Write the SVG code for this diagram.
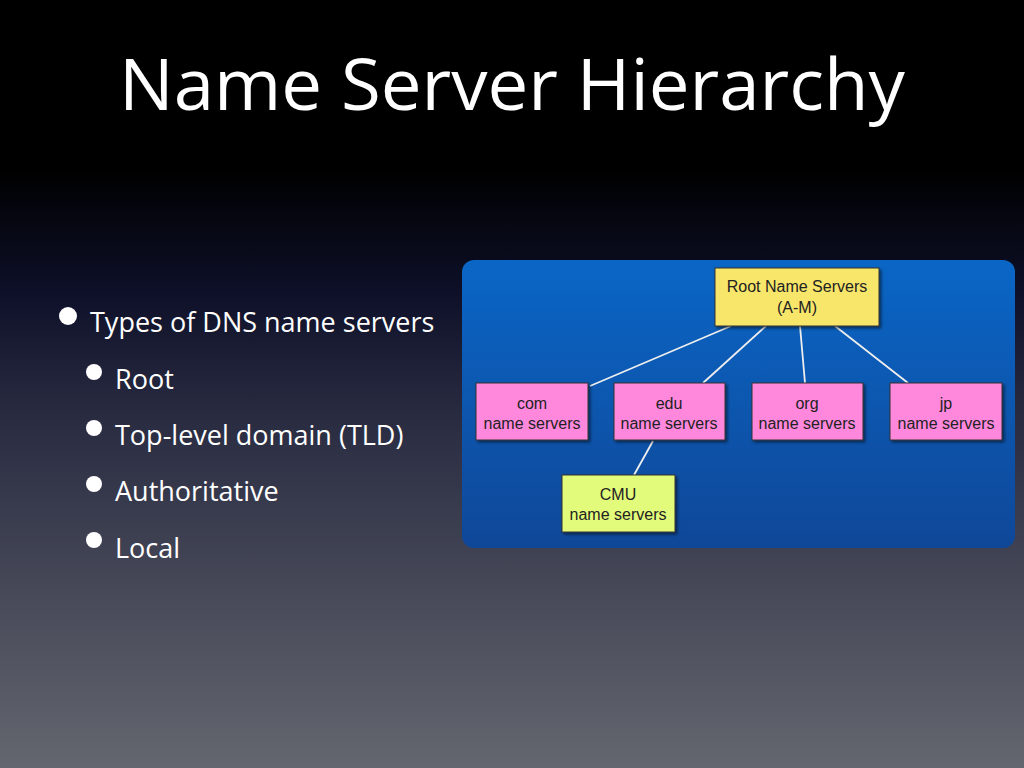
<svg xmlns="http://www.w3.org/2000/svg" width="1024" height="768" viewBox="0 0 1024 768">
<defs>
<linearGradient id="bg" x1="0" y1="0" x2="0" y2="1">
<stop offset="0" stop-color="#000000"/><stop offset="0.22" stop-color="#000000"/><stop offset="0.38" stop-color="#0d1028"/><stop offset="0.55" stop-color="#2a2d42"/><stop offset="1" stop-color="#64666f"/>
</linearGradient>
<linearGradient id="panel" x1="0" y1="0" x2="0" y2="1">
<stop offset="0" stop-color="#0a66c6"/><stop offset="1" stop-color="#0f4798"/>
</linearGradient>
<filter id="sh" x="-10%" y="-10%" width="130%" height="130%"><feDropShadow dx="2" dy="2" stdDeviation="1.5" flood-opacity="0.5"/></filter>
</defs>
<style>
.t{font-family:"Open Sans","Liberation Sans",sans-serif;fill:#fff}
.b{font-family:"Liberation Sans",Arial,sans-serif;font-size:16px;fill:#222;text-anchor:middle}
.box{stroke:#333;stroke-width:1;filter:url(#sh)}
.pk{fill:#ff88dd}
.ln{stroke:#eee;stroke-width:1.8}
</style>
<rect width="1024" height="768" fill="url(#bg)"/>
<text class="t" x="512" y="110" font-size="72" text-anchor="middle" textLength="786" lengthAdjust="spacingAndGlyphs">Name Server Hierarchy</text>
<g id="bullets" class="t">
<circle cx="68" cy="316" r="9" fill="#fff"/><text x="90" y="332" font-size="27">Types of DNS name servers</text>
<circle cx="94" cy="372" r="8" fill="#fff"/><text x="115" y="389" font-size="27">Root</text>
<circle cx="94" cy="428" r="8" fill="#fff"/><text x="115" y="445" font-size="27">Top-level domain (TLD)</text>
<circle cx="94" cy="484" r="8" fill="#fff"/><text x="115" y="501" font-size="27">Authoritative</text>
<circle cx="94" cy="540" r="8" fill="#fff"/><text x="115" y="558" font-size="27">Local</text>
</g>
<rect x="462" y="260" width="553" height="288" rx="12" fill="url(#panel)"/>
<g id="connectors">
<line class="ln" x1="731" y1="326" x2="590" y2="386"/>
<line class="ln" x1="766" y1="326" x2="703" y2="383"/>
<line class="ln" x1="800" y1="326" x2="805" y2="383"/>
<line class="ln" x1="835" y1="326" x2="908" y2="383"/>
<line class="ln" x1="653" y1="441" x2="634" y2="475"/>
</g>
<g id="root"><rect class="box" x="715" y="268" width="164" height="58" fill="#f8e66a"/><text class="b" x="797" y="292">Root Name Servers</text><text class="b" x="797" y="313">(A-M)</text></g>
<g id="com"><rect class="box pk" x="476" y="383" width="112" height="57"/><text class="b" x="532" y="409">com</text><text class="b" x="532" y="429">name servers</text></g>
<g id="edu"><rect class="box pk" x="614" y="383" width="111" height="57"/><text class="b" x="669" y="409">edu</text><text class="b" x="669" y="429">name servers</text></g>
<g id="org"><rect class="box pk" x="752" y="383" width="111" height="57"/><text class="b" x="807" y="409">org</text><text class="b" x="807" y="429">name servers</text></g>
<g id="jp"><rect class="box pk" x="890" y="383" width="112" height="57"/><text class="b" x="946" y="409">jp</text><text class="b" x="946" y="429">name servers</text></g>
<g id="cmu"><rect class="box" x="562" y="475" width="113" height="57" fill="#e3fb7a"/><text class="b" x="618" y="500">CMU</text><text class="b" x="618" y="520">name servers</text></g>
</svg>
